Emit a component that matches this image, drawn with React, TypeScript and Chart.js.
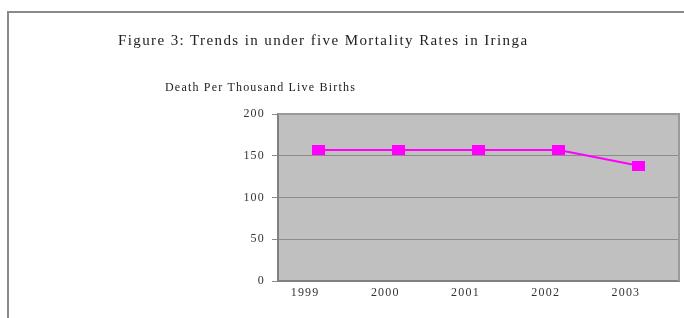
import React, { useEffect, useRef } from "react";
import { Chart, registerables } from "chart.js";

Chart.register(...registerables);

const years = ["1999", "2000", "2001", "2002", "2003"];
const mortality = [157, 157, 157, 157, 138];
const yTicks = [0, 50, 100, 150, 200];

const titleText = "Figure 3: Trends in under five Mortality Rates in Iringa";
const yAxisTitle = "Death Per Thousand Live Births";

function makeMarker(): HTMLCanvasElement {
  const c = document.createElement("canvas");
  c.width = 13;
  c.height = 10;
  const ctx = c.getContext("2d")!;
  ctx.fillStyle = "#FF00FF";
  ctx.fillRect(0, 0, 13, 10);
  return c;
}

const plotBg = {
  id: "plotBg",
  beforeDraw(chart: any) {
    const { ctx, chartArea } = chart;
    (ctx as any).letterSpacing = "1.2px";
    ctx.save();
    ctx.fillStyle = "#C0C0C0";
    ctx.fillRect(chartArea.left, chartArea.top, chartArea.right - chartArea.left, chartArea.bottom - chartArea.top);
    ctx.restore();
  },
  afterDatasetsDraw(chart: any) {
    const { ctx, chartArea } = chart;
    ctx.save();
    ctx.strokeStyle = "#9a9a9a";
    ctx.lineWidth = 2;
    ctx.beginPath();
    ctx.moveTo(chartArea.left, chartArea.top);
    ctx.lineTo(chartArea.right, chartArea.top);
    ctx.lineTo(chartArea.right, chartArea.bottom);
    ctx.stroke();
    ctx.restore();
  },
};

export default function App() {
  const ref = useRef<HTMLCanvasElement>(null);
  useEffect(() => {
    const marker = makeMarker();
    const chart = new Chart(ref.current!, {
      type: "line",
      data: {
        labels: years,
        datasets: [
          {
            data: mortality,
            borderColor: "#FF00FF",
            backgroundColor: "#FF00FF",
            borderWidth: 2,
            pointStyle: marker as any,
            pointRadius: 6,
            tension: 0,
          },
        ],
      },
      options: {
        animation: false,
        responsive: false,
        maintainAspectRatio: false,
        layout: { autoPadding: false, padding: { left: 0, top: 114, right: 5, bottom: 0 } },
        plugins: { legend: { display: false }, tooltip: { enabled: false }, title: { display: false } },
        scales: {
          x: {
            offset: true,
            grid: { display: false, drawTicks: false },
            border: { display: true, color: "#808080", width: 2 },
            ticks: {
              color: "#333",
              font: { family: "Liberation Serif", size: 12 },
              padding: 5,
              labelOffset: -13,
            },
            afterFit(scale: any) {
              scale.height = 37;
              scale.paddingLeft = 0;
              scale.paddingRight = 0;
            },
          },
          y: {
            min: 0,
            max: 200,
            afterBuildTicks(scale: any) {
              scale.ticks = yTicks.map((v) => ({ value: v }));
            },
            grid: {
              color: (c: any) => (c.tick && c.tick.value === 200 ? "#9a9a9a" : "#8c8c8c"),
              lineWidth: 1,
              tickLength: 6,
              tickColor: "#8c8c8c",
            },
            border: { display: true, color: "#808080", width: 2 },
            ticks: {
              color: "#333",
              font: { family: "Liberation Serif", size: 12 },
              padding: 7,
            },
            afterFit(scale: any) {
              scale.width = 278;
            },
          },
        },
      },
      plugins: [plotBg],
    });
    return () => chart.destroy();
  }, []);

  return (
    <div style={{ position: "fixed", left: 0, top: 0, width: 684, height: 318, background: "#fff", overflow: "hidden" }}>
      <div
        style={{
          position: "absolute",
          left: 7,
          top: 11,
          width: 700,
          height: 400,
          borderLeft: "2px solid #8a8a8a",
          borderTop: "2px solid #8a8a8a",
        }}
      />
      <canvas ref={ref} width={684} height={318} style={{ position: "absolute", left: 0, top: 0 }} />
      <div
        style={{
          position: "absolute",
          left: 118,
          top: 32,
          fontFamily: "Liberation Serif",
          fontSize: 15,
          letterSpacing: 1.4,
          color: "#222",
          whiteSpace: "nowrap",
        }}
      >
        {titleText}
      </div>
      <div
        style={{
          position: "absolute",
          left: 165,
          top: 80,
          fontFamily: "Liberation Serif",
          fontSize: 12,
          letterSpacing: 1.2,
          color: "#222",
          whiteSpace: "nowrap",
        }}
      >
        {yAxisTitle}
      </div>
    </div>
  );
}
